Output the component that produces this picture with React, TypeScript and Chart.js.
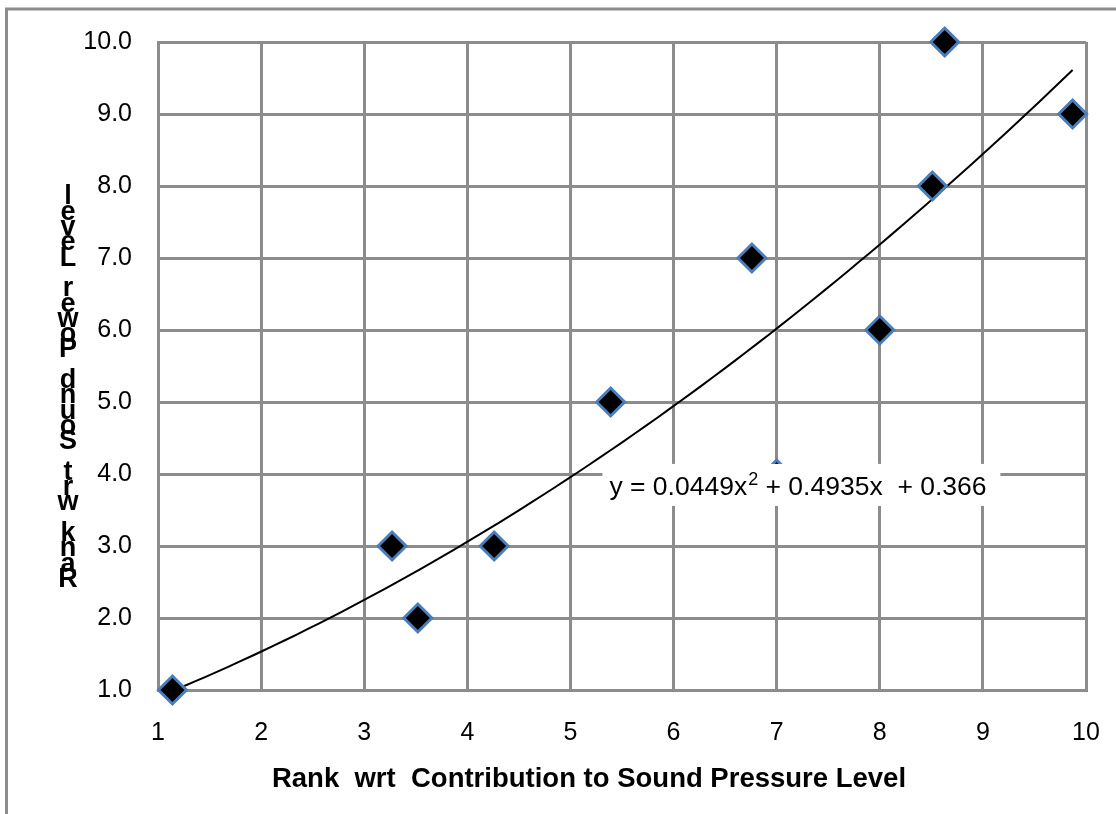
import React, { useEffect, useRef } from "react";
import { Chart, registerables } from "chart.js";

Chart.register(...registerables);

const xValues = [1.14, 3.27, 3.52, 4.26, 5.39, 6.76, 7.0, 8.0, 8.51, 8.63, 9.87];
const yValues = [1, 3, 2, 3, 5, 7, 4, 6, 8, 10, 9];
const trendCoeffs = [0.366, 0.4935, 0.0449]; // c0 + c1 x + c2 x^2
const xTitle = "Rank  wrt  Contribution to Sound Pressure Level";
const yTitle = "Rank wrt Sound Power Level";
const equationParts = ["y = 0.0449x", "2", " + 0.4935x  + 0.366"];

const FONT = "'Liberation Sans', Arial, sans-serif";
const GRID = "#8c8c8c";

export default function App() {
  const ref = useRef<HTMLCanvasElement | null>(null);

  useEffect(() => {
    if (!ref.current) return;
    const points = xValues.map((x, i) => ({ x, y: yValues[i] }));
    const xMin = Math.min(...xValues);
    const xMax = Math.max(...xValues);
    const trend: { x: number; y: number }[] = [];
    const n = 80;
    for (let i = 0; i <= n; i++) {
      const x = xMin + ((xMax - xMin) * i) / n;
      trend.push({ x, y: trendCoeffs[0] + trendCoeffs[1] * x + trendCoeffs[2] * x * x });
    }

    const decor = {
      id: "decor",
      beforeDraw(chart: any) {
        const ctx = chart.ctx;
        ctx.save();
        ctx.strokeStyle = GRID;
        ctx.lineWidth = 3;
        ctx.strokeRect(6.5, 9, 2000, 2000);
        ctx.restore();
      },
      afterDatasetsDraw(chart: any) {
        const ctx = chart.ctx;
        const xs = chart.scales.x;
        const ys = chart.scales.y;
        ctx.save();
        // equation label
        const bx = xs.getPixelForValue(5.31);
        const by = ys.getPixelForValue(4.14);
        ctx.fillStyle = "#ffffff";
        ctx.fillRect(bx, by, 398, 42);
        ctx.fillStyle = "#000000";
        ctx.textAlign = "left";
        ctx.textBaseline = "middle";
        let tx = bx + 7;
        const ty = by + 24;
        ctx.font = `26.5px ${FONT}`;
        ctx.fillText(equationParts[0], tx, ty);
        tx += ctx.measureText(equationParts[0]).width + 1;
        ctx.font = `18px ${FONT}`;
        ctx.fillText(equationParts[1], tx, ty - 8);
        tx += ctx.measureText(equationParts[1]).width;
        ctx.font = `26.5px ${FONT}`;
        ctx.fillText(equationParts[2], tx, ty);
        // x title
        ctx.font = `bold 27.5px ${FONT}`;
        ctx.textAlign = "center";
        ctx.fillText(xTitle, 589, 779);
        // y title (stacked, reversed characters)
        ctx.font = `bold 27px ${FONT}`;
        const chars = yTitle.split("").reverse();
        chars.forEach((c, i) => {
          ctx.fillText(c, 68, 197 + i * 15.3);
        });
        ctx.restore();
      },
    };

    const chart = new Chart(ref.current, {
      type: "scatter",
      data: {
        datasets: [
          {
            label: "Rank",
            data: points,
            pointStyle: "rectRot",
            pointRadius: 14,
            pointHoverRadius: 14,
            backgroundColor: "#000000",
            borderColor: "#4a7ebb",
            borderWidth: 3,
            clip: false,
            order: 0,
          } as any,
          {
            label: "Trend",
            data: trend,
            showLine: true,
            pointRadius: 0,
            borderColor: "#000000",
            borderWidth: 2,
            fill: false,
            order: 1,
          } as any,
        ],
      },
      options: {
        responsive: false,
        animation: false,
        events: [],
        layout: { padding: { top: 42, right: 30, left: 0, bottom: 0 } },
        plugins: { legend: { display: false }, tooltip: { enabled: false } },
        scales: {
          x: {
            type: "linear",
            min: 1,
            max: 10,
            ticks: {
              stepSize: 1,
              color: "#000",
              font: { family: FONT, size: 25 },
              padding: 28,
              maxRotation: 0,
            },
            grid: { color: GRID, lineWidth: 3, drawTicks: false },
            border: { color: GRID, width: 3 },
            afterFit(scale: any) {
              scale.height = 124;
              scale.paddingLeft = 0;
              scale.paddingRight = 0;
            },
          },
          y: {
            type: "linear",
            min: 1,
            max: 10,
            ticks: {
              stepSize: 1,
              color: "#000",
              font: { family: FONT, size: 25 },
              padding: 26,
              callback: (v: any) => Number(v).toFixed(1),
            },
            grid: { color: GRID, lineWidth: 3, drawTicks: false },
            border: { color: GRID, width: 3 },
            afterFit(scale: any) {
              scale.width = 158;
              scale.paddingTop = 0;
              scale.paddingBottom = 0;
            },
          },
        },
      },
      plugins: [decor],
    });
    return () => chart.destroy();
  }, []);

  return (
    <div style={{ position: "fixed", left: 0, top: 0, width: 1116, height: 814, background: "#fff" }}>
      <canvas ref={ref} width={1116} height={814} style={{ display: "block" }} />
    </div>
  );
}
